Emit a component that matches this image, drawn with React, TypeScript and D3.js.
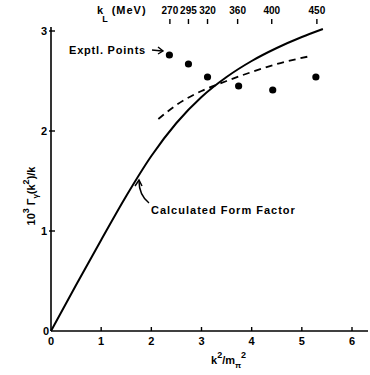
import { useEffect, useRef } from 'react'
import * as d3 from 'd3'

// k^2/m_pi^2 vs 10^3 Gamma(k^2)/k
const xTicks = [0, 1, 2, 3, 4, 5, 6]
const yTicks = [1, 2, 3]

// calculated form factor (solid)
const calcX = [0, 0.5, 1.0, 1.5, 2.0, 2.5, 3.0, 3.5, 4.0, 4.5, 5.0, 5.42]
const calcY = [0, 0.46, 0.91, 1.35, 1.75, 2.08, 2.34, 2.54, 2.7, 2.83, 2.94, 3.02]

// dashed curve
const dashX = [2.14, 2.5, 3.0, 3.5, 4.0, 4.5, 5.18]
const dashY = [2.12, 2.26, 2.4, 2.5, 2.59, 2.67, 2.75]

// experimental points
const exptX = [2.36, 2.74, 3.12, 3.74, 4.42, 5.28]
const exptY = [2.76, 2.67, 2.54, 2.45, 2.41, 2.54]

// lab photon energy (top axis), placed at its k^2/m_pi^2 value
const kLabLabels = ['270', '295', '320', '360', '400', '450']
const kLabPos = [2.37, 2.74, 3.12, 3.72, 4.4, 5.3]

export default function App() {
  const svgRef = useRef<SVGSVGElement>(null)

  useEffect(() => {
    if (!svgRef.current) return
    const svg = d3.select(svgRef.current)
    svg.selectAll('*').remove()

    const font = "'Liberation Sans', Arial, sans-serif"
    const x = d3.scaleLinear().domain([0, 6]).range([51, 352])
    const y = d3.scaleLinear().domain([0, 3]).range([331, 31])

    const txt = (px: number, py: number, s: string, size = 11, anchor = 'start') =>
      svg.append('text')
        .attr('x', px).attr('y', py)
        .attr('text-anchor', anchor)
        .style('font-family', font).style('font-size', `${size}px`).style('font-weight', 'bold')
        .text(s)

    // axes
    svg.append('line')
      .attr('x1', x(0)).attr('x2', 368).attr('y1', y(0)).attr('y2', y(0))
      .attr('stroke', '#000').attr('stroke-width', 1.6)
    svg.append('line')
      .attr('x1', x(0)).attr('x2', x(0)).attr('y1', y(0)).attr('y2', 27)
      .attr('stroke', '#000').attr('stroke-width', 1.6)

    xTicks.forEach(t => {
      if (t > 0) {
        svg.append('line')
          .attr('x1', x(t)).attr('x2', x(t)).attr('y1', y(0)).attr('y2', y(0) - 4)
          .attr('stroke', '#000').attr('stroke-width', 1.4)
      }
      txt(x(t), y(0) + 14, String(t), 11, 'middle')
    })

    yTicks.forEach(t => {
      svg.append('line')
        .attr('x1', x(0) - 2).attr('x2', x(0) + 4).attr('y1', y(t)).attr('y2', y(t))
        .attr('stroke', '#000').attr('stroke-width', 1.4)
      txt(x(0) - 4, y(t) + 4, String(t), 11, 'end')
    })
    txt(x(0) - 2, y(0) + 4, '0', 11, 'end')

    // top axis: k_L (MeV)
    kLabLabels.forEach((lab, i) => {
      svg.append('line')
        .attr('x1', x(kLabPos[i])).attr('x2', x(kLabPos[i])).attr('y1', 19).attr('y2', 24)
        .attr('stroke', '#000').attr('stroke-width', 1.4)
      txt(x(kLabPos[i]), 14, lab, 10, 'middle')
    })
    const kl = txt(97, 14, '', 11)
    kl.append('tspan').text('k')
    kl.append('tspan').attr('dx', -1).attr('dy', 8).style('font-size', '9px').text('L')
    kl.append('tspan').attr('dx', 4).attr('dy', -8).attr('letter-spacing', 1).text('(MeV)')

    // curves
    const line = d3.line<[number, number]>()
      .x(d => x(d[0])).y(d => y(d[1]))
      .curve(d3.curveMonotoneX)

    svg.append('path')
      .attr('d', line(calcX.map((v, i) => [v, calcY[i]] as [number, number])))
      .attr('fill', 'none').attr('stroke', '#000').attr('stroke-width', 2)

    svg.append('path')
      .attr('d', line(dashX.map((v, i) => [v, dashY[i]] as [number, number])))
      .attr('fill', 'none').attr('stroke', '#000').attr('stroke-width', 1.8)
      .attr('stroke-dasharray', '7,5')

    exptX.forEach((v, i) => {
      svg.append('circle')
        .attr('cx', x(v)).attr('cy', y(exptY[i])).attr('r', 3.6)
        .attr('fill', '#000')
    })

    // annotations
    txt(69, 54, 'Exptl. Points', 11).attr('letter-spacing', 0.8)
    svg.append('line')
      .attr('x1', 152).attr('x2', 162).attr('y1', 50).attr('y2', 51)
      .attr('stroke', '#000').attr('stroke-width', 1.4)
    svg.append('path')
      .attr('d', 'M158,47 L163,51 L158,54')
      .attr('fill', 'none').attr('stroke', '#000').attr('stroke-width', 1.4)

    txt(151, 214, 'Calculated Form Factor', 11).attr('letter-spacing', 1)
    svg.append('path')
      .attr('d', 'M149,203 Q139,195 139,181')
      .attr('fill', 'none').attr('stroke', '#000').attr('stroke-width', 1.5)
    svg.append('path')
      .attr('d', 'M135,186 L139,180 L142,186')
      .attr('fill', 'none').attr('stroke', '#000').attr('stroke-width', 1.5)

    // x title
    const xt = txt(211, 364, '', 11)
    xt.append('tspan').text('k')
    xt.append('tspan').attr('dy', -6).style('font-size', '9px').text('2')
    xt.append('tspan').attr('dy', 6).text('/m')
    xt.append('tspan').attr('dy', 4).style('font-size', '8px').text('π')
    xt.append('tspan').attr('dy', -10).style('font-size', '9px').text('2')

    // y title
    const yt = svg.append('text')
      .attr('transform', `translate(35,${y(1.35)}) rotate(-90)`)
      .attr('text-anchor', 'middle')
      .style('font-family', font).style('font-size', '11px').style('font-weight', 'bold')
    yt.append('tspan').text('10')
    yt.append('tspan').attr('dy', -6).style('font-size', '9px').text('3')
    yt.append('tspan').attr('dx', 3).attr('dy', 6).text('Γ')
    yt.append('tspan').attr('dy', 3).style('font-size', '8px').text('γ')
    yt.append('tspan').attr('dy', -3).text('(k')
    yt.append('tspan').attr('dy', -6).style('font-size', '9px').text('2')
    yt.append('tspan').attr('dy', 6).text(')/k')
  }, [])

  return (
    <svg
      ref={svgRef}
      width={370}
      height={375}
      style={{ position: 'absolute', left: 0, top: 0, background: '#fff' }}
    />
  )
}
